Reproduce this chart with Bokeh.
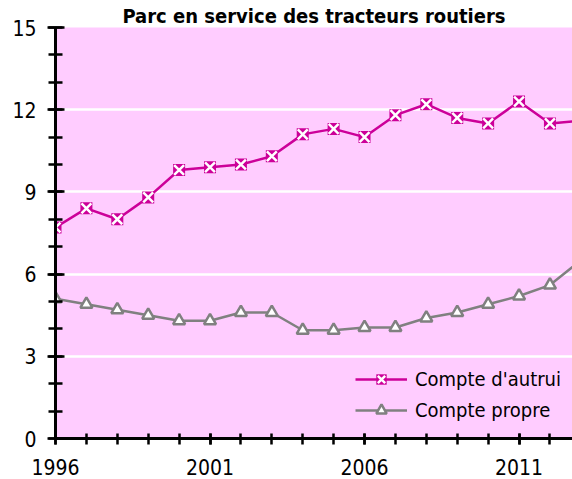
from bokeh.plotting import figure
from bokeh.models import FixedTicker, Range1d, Legend, LegendItem
from bokeh.embed import file_html
from bokeh.resources import INLINE

# ---- data ----
years = list(range(1996, 2014))
autrui = [7.7, 8.4, 8.0, 8.8, 9.8, 9.9, 10.0, 10.3, 11.1, 11.3, 11.0, 11.8, 12.2, 11.7, 11.5, 12.3, 11.5, 11.6]
propre = [5.1, 4.9, 4.7, 4.5, 4.3, 4.3, 4.6, 4.6, 3.95, 3.95, 4.05, 4.05, 4.4, 4.6, 4.9, 5.2, 5.6, 6.5]
x_major = [1996, 2001, 2006, 2011]
y_major = [0, 3, 6, 9, 12, 15]
title_text = "Parc en service des tracteurs routiers"
name_autrui = "Compte d'autrui"
name_propre = "Compte propre"

FONT = "DejaVu Sans Condensed"
MAGENTA = "#CC0099"
GRAY = "#808080"
PINK = "#FFCCFF"

X_END = 2012.73

p = figure(width=572, height=479, output_backend="svg", toolbar_location=None,
           x_range=Range1d(1996, X_END), y_range=Range1d(0, 15),
           min_border_left=55, min_border_right=0, min_border_top=27, min_border_bottom=41,
           title=title_text)
p.background_fill_color = PINK
p.border_fill_color = "white"
p.outline_line_color = None

p.title.align = "center"
p.title.text_font = FONT
p.title.text_font_size = "20px"
p.title.text_font_style = "bold"
p.title.text_color = "black"
p.title.standoff = 0
p.title.offset = 0

# grid
p.xgrid.grid_line_color = None
p.ygrid.ticker = FixedTicker(ticks=[3, 6, 9, 12])
p.ygrid.grid_line_color = "white"
p.ygrid.grid_line_width = 2.5

# axes
for ax in (p.xaxis[0], p.yaxis[0]):
    ax.axis_line_color = "black"
    ax.axis_line_width = 3
    ax.major_tick_line_color = "black"
    ax.major_tick_line_width = 2.5
    ax.minor_tick_line_color = "black"
    ax.minor_tick_line_width = 2.5
    ax.major_label_text_font = FONT
    ax.major_label_text_font_size = "21px"
    ax.major_label_text_color = "black"

p.xaxis.ticker = FixedTicker(ticks=x_major, minor_ticks=years)
p.xaxis.major_tick_out = 6
p.xaxis.major_tick_in = 5
p.xaxis.minor_tick_out = 6
p.xaxis.minor_tick_in = 5
p.xaxis.major_label_standoff = 14

p.yaxis.ticker = FixedTicker(ticks=y_major, minor_ticks=list(range(0, 16)))
p.yaxis.major_tick_out = 8
p.yaxis.major_tick_in = 9
p.yaxis.minor_tick_out = 7
p.yaxis.minor_tick_in = 7
p.yaxis.major_label_standoff = 11

# series
l1 = p.line(years, autrui, line_color=MAGENTA, line_width=2.5)
s1 = p.scatter(years, autrui, marker="square", size=12, fill_color=MAGENTA, line_color=None)
x1 = p.scatter(years, autrui, marker="x", size=14, line_color="white", line_width=2.5)

l2 = p.line(years, propre, line_color=GRAY, line_width=2.5)
t2 = p.scatter(years, propre, marker="triangle", size=12, fill_color="white",
               line_color=GRAY, line_width=2.5)

legend = Legend(items=[LegendItem(label=name_autrui, renderers=[l1, s1, x1]),
                       LegendItem(label=name_propre, renderers=[l2, t2])],
                location=(300, 15), orientation="vertical")
legend.background_fill_alpha = 0
legend.border_line_color = None
legend.padding = 0
legend.margin = 0
legend.spacing = 5
legend.glyph_width = 52
legend.glyph_height = 26
legend.label_height = 26
legend.label_standoff = 8
legend.label_text_font = FONT
legend.label_text_font_size = "20px"
legend.label_text_color = "black"
p.add_layout(legend, "center")

open("out.html", "w").write(file_html(p, INLINE))
